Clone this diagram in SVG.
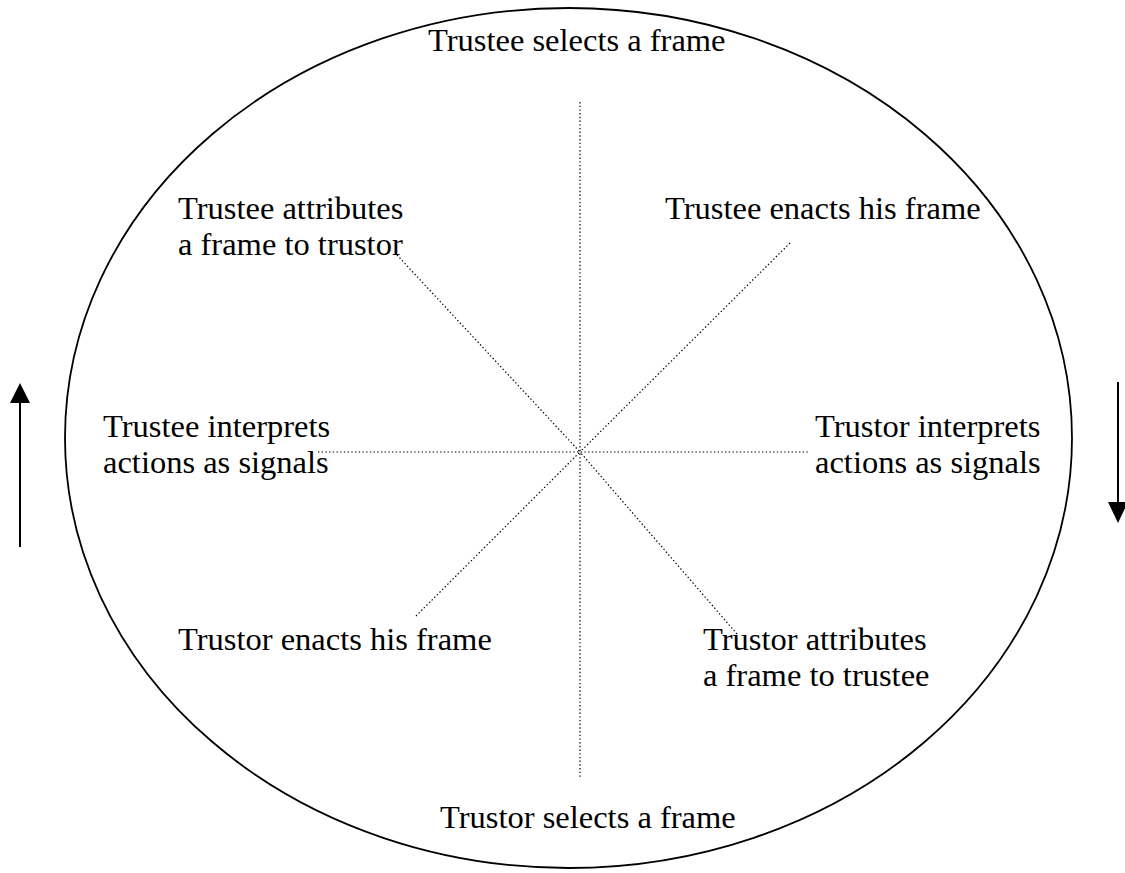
<svg xmlns="http://www.w3.org/2000/svg" width="1125" height="873" viewBox="0 0 1125 873">
  <style>
    .lbl { font-family: "Liberation Serif", "Times New Roman", serif; font-size: 32.5px; fill: #000; }
    .spoke { stroke: #000; stroke-width: 1.2; stroke-dasharray: 1.4 2.3; fill: none; }
    .arrow { stroke: #000; stroke-width: 2; fill: none; }
    .head { fill: #000; }
  </style>
  <rect width="1125" height="873" fill="#fff"/>

  <!-- outer cycle -->
  <ellipse id="cycle" cx="568.5" cy="438" rx="503.5" ry="430" fill="none" stroke="#000" stroke-width="1.8"/>

  <!-- dotted spokes from the hub -->
  <g id="connectors">
    <line class="spoke" x1="580" y1="102" x2="580" y2="777"/>
    <line class="spoke" x1="318" y1="452" x2="810" y2="452"/>
    <line class="spoke" x1="397" y1="255" x2="580" y2="452"/>
    <line class="spoke" x1="790" y1="243" x2="580" y2="452"/>
    <line class="spoke" x1="416" y1="616" x2="580" y2="452"/>
    <line class="spoke" x1="737" y1="634" x2="580" y2="452"/>
  </g>

  <!-- direction arrows -->
  <g id="arrow-up">
    <line class="arrow" x1="20" y1="547" x2="20" y2="400"/>
    <polygon class="head" points="20,383 10,403 30,403"/>
  </g>
  <g id="arrow-down">
    <line class="arrow" x1="1118" y1="382" x2="1118" y2="505"/>
    <polygon class="head" points="1118,523 1108,502 1128,502"/>
  </g>

  <g id="trustee-selects">
    <text class="lbl" x="428" y="51">Trustee selects a frame</text>
  </g>
  <g id="trustee-enacts">
    <text class="lbl" x="665" y="219">Trustee enacts his frame</text>
  </g>
  <g id="trustor-interprets">
    <text class="lbl" x="815" y="437">Trustor interprets</text>
    <text class="lbl" x="815" y="473">actions as signals</text>
  </g>
  <g id="trustor-attributes">
    <text class="lbl" x="703" y="650">Trustor attributes</text>
    <text class="lbl" x="703" y="686">a frame to trustee</text>
  </g>
  <g id="trustor-selects">
    <text class="lbl" x="440" y="828">Trustor selects a frame</text>
  </g>
  <g id="trustor-enacts">
    <text class="lbl" x="178" y="650">Trustor enacts his frame</text>
  </g>
  <g id="trustee-interprets">
    <text class="lbl" x="103" y="437">Trustee interprets</text>
    <text class="lbl" x="103" y="473">actions as signals</text>
  </g>
  <g id="trustee-attributes">
    <text class="lbl" x="178" y="219">Trustee attributes</text>
    <text class="lbl" x="178" y="255">a frame to trustor</text>
  </g>
</svg>
